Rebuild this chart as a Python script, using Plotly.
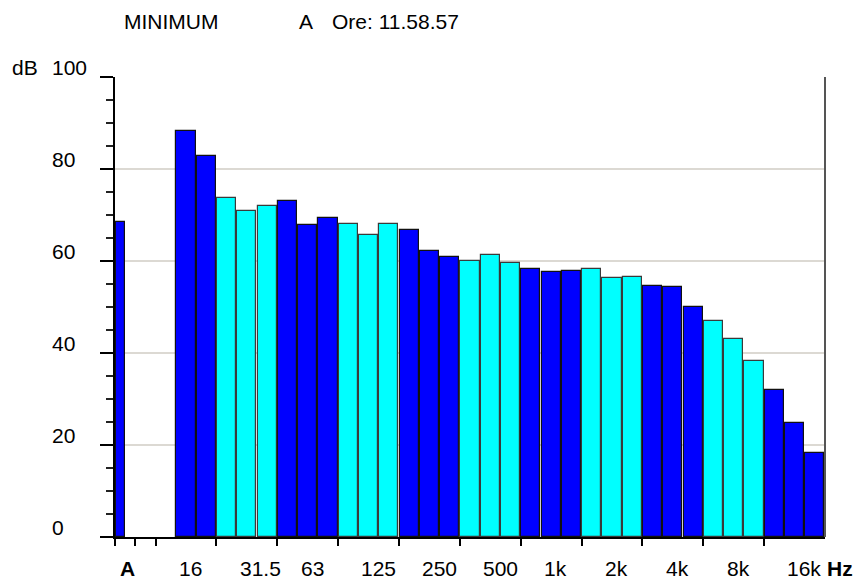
import plotly.graph_objects as go

# ---- data ----
bands = ["16", "20", "25", "31.5", "40", "50", "63", "80", "100", "125", "160",
         "200", "250", "315", "400", "500", "630", "800", "1k", "1.25k", "1.6k",
         "2k", "2.5k", "3.15k", "4k", "5k", "6.3k", "8k", "10k", "12.5k", "16k", "20k"]
levels = [88.3, 82.8, 73.8, 70.9, 72.0, 73.0, 67.8, 69.3, 68.0, 65.7, 68.0,
          66.7, 62.1, 60.8, 60.0, 61.3, 59.5, 58.2, 57.7, 57.9, 58.2,
          56.4, 56.6, 54.6, 54.3, 50.1, 47.0, 43.1, 38.2, 32.0, 24.8, 18.3]
overall_label = "A"
overall_level = 68.5
labelled_bands = ["16", "31.5", "63", "125", "250", "500", "1k", "2k", "4k", "8k", "16k"]
y_ticks = [0, 20, 40, 60, 80, 100]

BLUE = "#0000FF"
CYAN = "#00FFFF"
FONT = "Liberation Sans, Arial, sans-serif"
FS = 21

first_slot = 3
n_slots = first_slot + len(bands)
xs = [first_slot + i + 0.5 for i in range(len(bands))]
colors = [BLUE if ((i + 1) // 3) % 2 == 0 else CYAN for i in range(len(bands))]
outline = ["#111111" if c == BLUE else "#3a3a3a" for c in colors]

fig = go.Figure()
fig.add_trace(go.Bar(
    x=[0.27], y=[overall_level], width=[0.44],
    marker=dict(color=BLUE, line=dict(color="#111111", width=1.2)),
    hoverinfo="y", showlegend=False))
fig.add_trace(go.Bar(
    x=xs, y=levels, width=0.95,
    customdata=bands, hovertemplate="%{customdata} Hz: %{y} dB<extra></extra>",
    marker=dict(color=colors, line=dict(color=outline, width=1.2)),
    showlegend=False))

tickvals_x = [0, 1, 2] + list(range(first_slot + 2, n_slots, 3))

fig.update_layout(
    width=856, height=580,
    margin=dict(l=115, r=31, t=77, b=43),
    paper_bgcolor="white", plot_bgcolor="white",
    bargap=0,
    font=dict(family=FONT, size=FS, color="black"),
    xaxis=dict(range=[0, n_slots], showgrid=False, zeroline=False,
               showline=True, linecolor="black", linewidth=1.5,
               ticks="outside", ticklen=7, tickwidth=1.5, tickcolor="black",
               tickvals=tickvals_x, showticklabels=False, fixedrange=True),
    yaxis=dict(range=[0, 100], showgrid=True, gridcolor="#dcd9d3", gridwidth=1.5,
               zeroline=False, showline=True, linecolor="black", linewidth=1.5,
               ticks="outside", ticklen=13, tickwidth=1.5, tickcolor="black",
               tickvals=y_ticks, showticklabels=False,
               minor=dict(dtick=5, ticks="outside", ticklen=7, tickwidth=1.5,
                          tickcolor="#222222", showgrid=False),
               fixedrange=True),
)

# right border
fig.add_shape(type="line", xref="paper", yref="paper", x0=1, x1=1, y0=0, y1=1,
              line=dict(color="#555555", width=2))

ann = []
# y tick labels
for v in y_ticks:
    ann.append(dict(text=str(v), xref="paper", yref="y", x=(50 - 115) / 710, y=v,
                    xanchor="left", yanchor="middle", yshift=10, showarrow=False))
ann.append(dict(text="dB", xref="paper", yref="y", x=(10 - 115) / 710, y=100,
                xanchor="left", yanchor="middle", yshift=10, showarrow=False))
# x labels
ylab = (537 - 568) / 460
for b in labelled_bands:
    s = first_slot + bands.index(b)
    ann.append(dict(text=b, xref="x", yref="paper", x=s, y=ylab, xshift=1,
                    xanchor="left", yanchor="middle", showarrow=False))
ann.append(dict(text="<b>" + overall_label + "</b>", xref="x", yref="paper", x=0.6, y=ylab,
                xanchor="center", yanchor="middle", showarrow=False))
ann.append(dict(text="<b>Hz</b>", xref="paper", yref="paper", x=1, y=ylab, xshift=0,
                xanchor="left", yanchor="middle", showarrow=False))
# header
yh = (537 - 22) / 460
ann.append(dict(text="MINIMUM", xref="paper", yref="paper", x=(122 - 115) / 710, y=yh,
                xanchor="left", yanchor="middle", showarrow=False))
ann.append(dict(text="A", xref="paper", yref="paper", x=(297 - 115) / 710, y=yh,
                xanchor="left", yanchor="middle", showarrow=False))
ann.append(dict(text="Ore: 11.58.57", xref="paper", yref="paper", x=(330 - 115) / 710, y=yh,
                xanchor="left", yanchor="middle", showarrow=False))
fig.update_layout(annotations=ann)

fig.write_html("out.html", config={"displayModeBar": False},
               post_script="document.body.style.margin='0';document.body.style.padding='0';")
